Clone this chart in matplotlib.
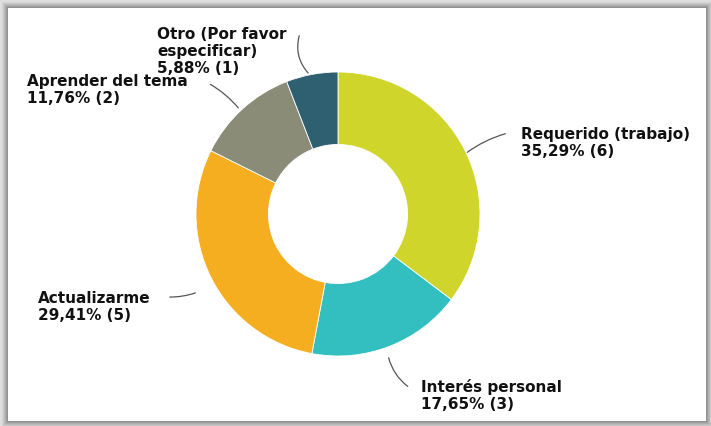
import matplotlib.pyplot as plt
from matplotlib.patches import Rectangle

labels = ['Requerido (trabajo)', 'Interés personal', 'Actualizarme',
          'Aprender del tema', 'Otro (Por favor\nespecificar)']
counts = [6, 3, 5, 2, 1]
colors = ['#cfd52b', '#33bfbf', '#f6ae21', '#8b8c78', '#2e6072']

W, H = 711, 427
fig = plt.figure(figsize=(W / 100, H / 100), dpi=100)
fig.patch.set_facecolor('#dedede')
ax = fig.add_axes([0, 0, 1, 1])

# shadowed frame
for i, a in enumerate([0.08, 0.1, 0.12, 0.14, 0.18, 0.22]):
    d = 6 - i
    ax.add_patch(Rectangle((8 - d, 5 - d), 698 + d * 2, 413 + d * 2,
                           facecolor='#606060', alpha=a, edgecolor='none', zorder=0))
ax.add_patch(Rectangle((8, 5), 698, 413, facecolor='white', edgecolor='none', zorder=1))

cx, cy, r = 338, 212, 142
wedges, _ = ax.pie(counts, colors=colors, startangle=90, counterclock=False,
                   center=(cx, cy), radius=r, frame=True,
                   wedgeprops=dict(width=r * 0.51, edgecolor='white', linewidth=0.6))
for w in wedges:
    w.set_zorder(2)
ax.set_xlim(0, W)
ax.set_ylim(0, H)
ax.set_aspect('equal')
ax.axis('off')

total = sum(counts)
pct = [f'{c / total * 100:.2f}'.replace('.', ',') + f'% ({c})' for c in counts]

# text anchor (left, top) and connector line (start on ring, end near text), in pixels
text_pos = [(521, 127), (421, 379), (38, 291), (27, 74), (157, 27)]
line_pts = [((465, 155), (508, 134), 0.1),
            ((388, 356), (410, 389), -0.2),
            ((198, 293), (167, 298), 0.1),
            ((240, 111), (208, 84), -0.1),
            ((310, 76), (300, 34), 0.3)]

for lab, p, (tx, ty), (s, e, rad) in zip(labels, pct, text_pos, line_pts):
    ax.text(tx, H - ty, lab + '\n' + p, ha='left', va='top', fontsize=11,
            fontweight='bold', color='#111111', linespacing=1.15, zorder=4)
    ax.annotate('', xy=(s[0], H - s[1]), xytext=(e[0], H - e[1]),
                arrowprops=dict(arrowstyle='-', color='#555555', lw=0.9,
                                connectionstyle=f'arc3,rad={rad}'), zorder=3)

plt.savefig('out.png', dpi=100, facecolor=fig.get_facecolor())
